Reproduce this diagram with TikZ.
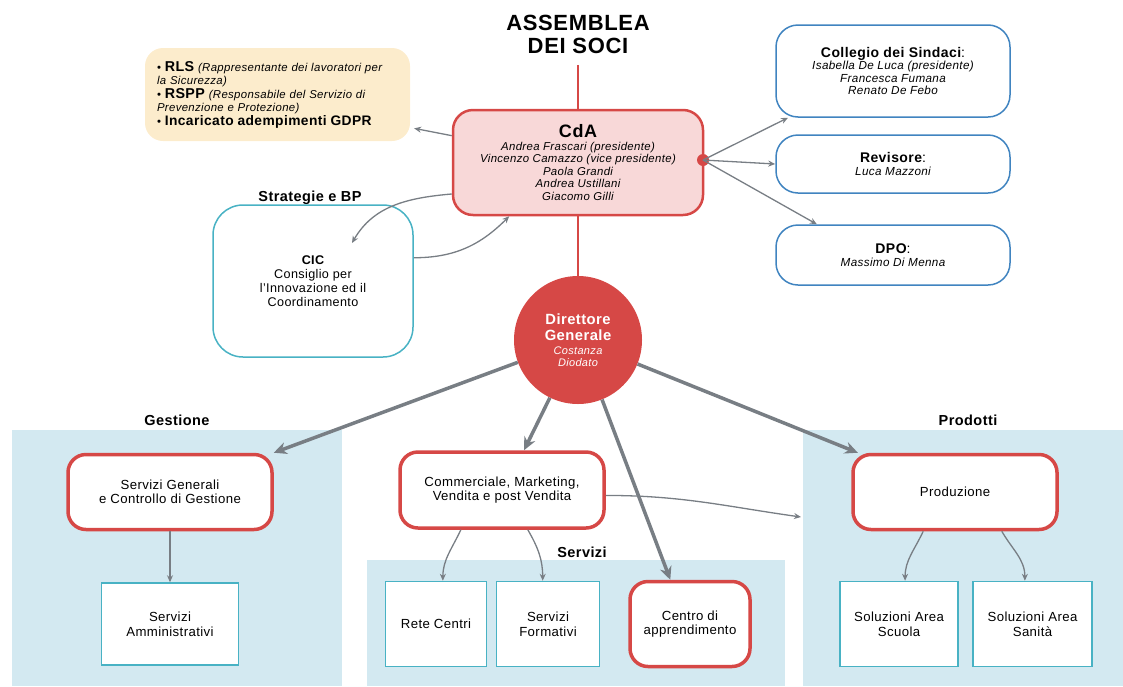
\documentclass[tikz,border=0pt]{standalone}
\usepackage{fontspec}
\setmainfont{Liberation Sans}[LetterSpace=3]
\usetikzlibrary{arrows.meta}

\definecolor{rossoB}{RGB}{214,72,70}
\definecolor{rosaF}{RGB}{248,216,216}
\definecolor{bluB}{RGB}{64,132,192}
\definecolor{cianoB}{RGB}{72,178,196}
\definecolor{azzP}{RGB}{211,233,241}
\definecolor{gialloF}{RGB}{252,236,204}
\definecolor{grigioA}{RGB}{120,126,132}

\newcommand{\fsz}[2]{\fontsize{#1}{#2}\selectfont}

\tikzset{
  redbox/.style={draw=rossoB, line width=3.5pt, rounded corners=18pt, fill=white, align=center,
    minimum width=204pt, minimum height=75pt, font=\fsz{13.2}{14.5}},
  smallbox/.style={draw=cianoB, line width=1.5pt, fill=white, align=center,
    minimum height=85pt, font=\fsz{13.2}{15}},
  sidebox/.style={draw=bluB, line width=1.5pt, rounded corners=22pt, fill=white, align=center,
    minimum width=234pt, font=\fsz{11.7}{12.5}},
  grouplbl/.style={font=\fsz{14.5}{16}\bfseries},
  thinarr/.style={draw=grigioA, line width=1.3pt, -{Stealth[length=7pt,width=6pt]}},
  thickarr/.style={draw=grigioA, line width=3.5pt, -{Stealth[length=13pt,width=12pt]}},
  redline/.style={draw=rossoB, line width=2.5pt}
}

\begin{document}
\begin{tikzpicture}[x=1pt,y=1pt]
\useasboundingbox (0,0) rectangle (1123,-686);

% sfondi delle aree
\fill[azzP] (12,-430) rectangle (342,-686);
\fill[azzP] (367,-560) rectangle (785,-686);
\fill[azzP] (803,-430) rectangle (1123,-686);
\node[grouplbl] (lges) at (177,-420) {Gestione};
\node[grouplbl] (lser) at (582,-552) {Servizi};
\node[grouplbl] (lpro) at (968,-420) {Prodotti};

% vertice
\node[align=center, font=\fsz{22}{23}\bfseries] (asm) at (578,-34) {ASSEMBLEA\\DEI SOCI};
\node[draw=rossoB, line width=2.5pt, fill=rosaF, rounded corners=20pt, align=center,
  minimum width=250pt, minimum height=105pt, font=\fsz{11.4}{12.5}\itshape] (cda) at (578,-162.5)
  {{\fsz{18}{19}\upshape\bfseries CdA}\\
   Andrea  Frascari  (presidente)\\
   Vincenzo  Camazzo  (vice  presidente)\\
   Paola  Grandi\\
   Andrea  Ustillani\\
   Giacomo  Gilli};
\fill[rossoB] (703,-160) circle (6pt);
\coordinate (dot) at (703,-160);

\node[fill=gialloF, rounded corners=18pt, align=left, text width=241pt, inner sep=12pt,
  minimum height=93pt, font=\fsz{11.4}{13.5}] (yel) at (277.5,-94.5)
  {\textbullet\ {\fsz{14.3}{13.5}\bfseries RLS} {\itshape (Rappresentante dei lavoratori per}\\
   {\itshape la Sicurezza)}\\
   \textbullet\ {\fsz{14.3}{13.5}\bfseries RSPP} {\itshape (Responsabile del Servizio di}\\
   {\itshape Prevenzione e Protezione)}\\
   \textbullet\ {\fsz{13.8}{13.5}\bfseries Incaricato adempimenti GDPR}};

\node[sidebox, minimum height=92pt] (coll) at (893,-71)
  {{\fsz{14}{15}\bfseries Collegio dei Sindaci}{\fsz{14}{15}:}\\
   {\itshape Isabella De Luca (presidente)}\\
   {\itshape Francesca Fumana}\\
   {\itshape Renato De Febo}};
\node[sidebox, minimum height=58pt] (rev) at (893,-164)
  {{\fsz{14}{15}\bfseries Revisore}{\fsz{14}{15}:}\\ {\itshape Luca Mazzoni}};
\node[sidebox, minimum height=60pt] (dpo) at (893,-255)
  {{\fsz{14}{15}\bfseries DPO}{\fsz{14}{15}:}\\ {\itshape Massimo Di Menna}};

\node[grouplbl] (lstr) at (310,-198) {Strategie e BP};
\node[draw=cianoB, line width=1.5pt, rounded corners=30pt, fill=white, align=center,
  minimum width=200pt, minimum height=152pt, font=\fsz{12.6}{14}] (cic) at (313,-281)
  {{\bfseries CIC}\\ Consiglio per\\ l'Innovazione ed il\\ Coordinamento};
\coordinate (cicin) at (352,-243);

\node[circle, fill=rossoB, minimum size=128pt, text=white, align=center,
  font=\fsz{14.8}{16}\bfseries] (dg) at (578,-340)
  {Direttore\\ Generale\\[-2pt] {\fsz{11}{12}\mdseries\itshape Costanza}\\[-4pt] {\fsz{11}{12}\mdseries\itshape Diodato}};

% aree operative
\node[redbox] (sg) at (170,-492) {Servizi Generali\\ e Controllo di Gestione};
\node[smallbox, minimum width=137pt, minimum height=82pt] (sa) at (170,-624) {Servizi\\ Amministrativi};
\node[redbox, minimum height=76pt] (comm) at (502,-490) {Commerciale, Marketing,\\ Vendita e post Vendita};
\node[smallbox, minimum width=101pt] (rete) at (436,-624) {Rete Centri};
\node[smallbox, minimum width=103pt] (sf) at (548,-624) {Servizi\\ Formativi};
\node[redbox, minimum width=120pt, minimum height=85pt] (centro) at (690,-624) {Centro di\\ apprendimento};
\node[redbox] (prod) at (955,-492) {Produzione};
\node[smallbox, minimum width=118pt] (scuola) at (899,-624) {Soluzioni Area\\ Scuola};
\node[smallbox, minimum width=119pt] (sanita) at (1032.5,-624) {Soluzioni Area\\ Sanità};
\coordinate (prin) at (801,-517);

% collegamenti
\draw[redline, shorten <=8pt] (asm) -- (cda);
\draw[redline] (cda) -- (dg);
\draw[thinarr, shorten >=4pt] (cda.168) -- (yel.-14);
\draw[thinarr] (dot) -- (coll.204);
\draw[thinarr] (dot) -- (rev.west);
\draw[thinarr] (dot) -- (dpo.158);
\draw[thinarr] (cda.194) to[out=185,in=60] (cicin);
\draw[thinarr] (cic.13) to[out=0,in=225] (cda.218);

\draw[thickarr] (dg) -- (sg.north east);
\draw[thickarr] (dg.244) -- (comm.61);
\draw[thickarr] (dg.292) -- (centro.114);
\draw[thickarr] (dg) -- (prod.158);

\draw[thinarr] (sg) -- (sa);
\draw[thinarr] (comm.224) to[out=245,in=90] (rete.81);
\draw[thinarr] (comm.303) to[out=-60,in=90] (sf.97);
\draw[thinarr] (comm.-3) to[out=0,in=172] (prin);
\draw[thinarr] (prod.231) to[out=245,in=90] (scuola.82);
\draw[thinarr] (prod.320) to[out=-60,in=90] (sanita.100);
\end{tikzpicture}
\end{document}
